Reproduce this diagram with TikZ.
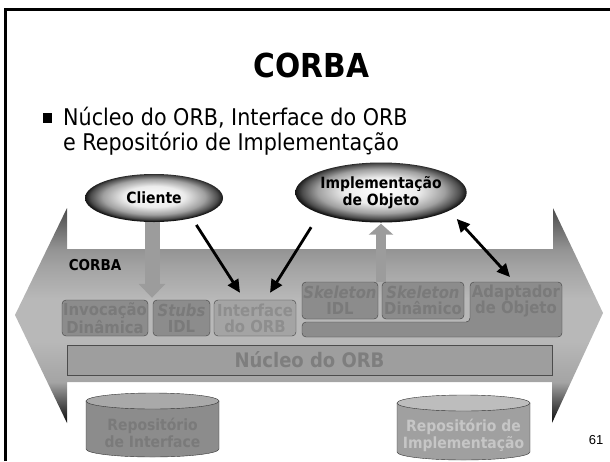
\documentclass[tikz,border=0pt]{standalone}
\usepackage{fontspec}
\IfFontExistsTF{DejaVu Sans Condensed}{\setmainfont{DejaVu Sans Condensed}}{\setmainfont{DejaVu Sans}}
\newfontfamily\arialfont{Liberation Sans}
\usetikzlibrary{arrows.meta,positioning,calc,shapes.geometric}

\definecolor{caixacinza}{HTML}{8C8C8C}
\definecolor{textocinza}{HTML}{7A7A7A}
\definecolor{ifacecinza}{HTML}{A4A4A4}
\definecolor{ifacetexto}{HTML}{8E8E8E}
\definecolor{nucleocinza}{HTML}{9E9E9E}
\definecolor{nucleotexto}{HTML}{7E7E7E}
\definecolor{setacinza}{HTML}{9C9C9C}
\definecolor{cil1corpo}{HTML}{8C8C8C}
\definecolor{cil1topo}{HTML}{A9A9A9}
\definecolor{cil2corpo}{HTML}{A0A0A0}
\definecolor{cil2topo}{HTML}{BDBDBD}
\definecolor{cil2texto}{HTML}{C6C6C6}
\definecolor{sa}{HTML}{0A0A0A}
\definecolor{sb}{HTML}{606060}
\definecolor{sc}{HTML}{A4A4A4}
\definecolor{sd}{HTML}{B8B8B8}
\definecolor{se}{HTML}{A2A2A2}
\definecolor{sf}{HTML}{939393}
\definecolor{sg}{HTML}{4A4A4A}
\definecolor{ba}{HTML}{ECECEC}
\definecolor{bb}{HTML}{A0A0A0}
\definecolor{bc}{HTML}{4C4C4C}
\definecolor{bd}{HTML}{151515}

% sombreado da seta grande
\pgfdeclareverticalshading{setagrande}{100bp}{color(0bp)=(sa); color(25bp)=(sa); color(30.3bp)=(sb);
  color(34.5bp)=(sc); color(44bp)=(sd); color(54bp)=(sd); color(61.7bp)=(se); color(65.5bp)=(sf);
  color(75bp)=(sg); color(100bp)=(sg)}
% sombreado das elipses
\pgfdeclareradialshading{bolha}{\pgfpoint{0bp}{2bp}}{color(0bp)=(white); color(11bp)=(ba);
  color(18.5bp)=(bb); color(23bp)=(bc); color(25bp)=(bd); color(50bp)=(bd)}

\pgfdeclarelayer{fundo}
\pgfdeclarelayer{meio}
\pgfsetlayers{fundo,meio,main}

\newcommand{\titulo}{\fontsize{33}{36}\selectfont\bfseries}
\newcommand{\topico}{\fontsize{23}{25}\selectfont}
\newcommand{\rotulo}{\fontsize{16.5}{16}\selectfont\bfseries}
\newcommand{\rotulob}{\fontsize{15.5}{17}\selectfont\bfseries}

% cilindro desenhado a partir de um no vazio
\newcommand{\cilindro}[3]{%
  \filldraw[draw=black!80, fill=#2] let \p1=(#1.north west), \p2=(#1.south east), \n1={(\x2-\x1)/2} in
    (\x1,\y1) -- (\x1,\y2+8pt) arc[start angle=180, end angle=360, x radius=\n1, y radius=8pt] -- (\x2,\y1);
  \filldraw[draw=black!80, fill=#3] let \p1=(#1.north west), \p2=(#1.south east), \n1={(\x2-\x1)/2} in
    (#1.north) ellipse [x radius=\n1, y radius=8pt];
}

\begin{document}
\begin{tikzpicture}[x=1pt, y=1pt,
    caixa/.style={draw=black!75, fill=caixacinza, rounded corners=4pt, inner sep=0pt,
      align=center, font=\rotulo, text=textocinza},
    vazio/.style={inner sep=0pt, outer sep=0pt},
    bola/.style={ellipse, inner sep=0pt, shading=bolha, align=center, font=\rotulob},
    grossa/.style={draw=setacinza, line width=15pt, -{Triangle[width=26pt,length=14pt]}},
    fina/.style={draw=setacinza, line width=10pt, -{Triangle[width=24pt,length=11pt]}},
    seta/.style={line width=2.8pt, -{Triangle[length=13pt,width=12pt]}},
    setadupla/.style={line width=2.8pt, {Triangle[length=13pt,width=12pt]}-{Triangle[length=13pt,width=12pt]}}]
  \useasboundingbox (0,0) rectangle (610,-461);
  \draw[line width=3pt] (5.5,-461) -- (5.5,-9) -- (610,-9);

  \node[font=\titulo, inner sep=0pt] (titulo) at (311.5,-65) {CORBA};
  \node[fill=black, minimum width=9.5pt, minimum height=9.5pt, inner sep=0pt] (marca) at (47.5,-118) {};
  \node[font=\topico, anchor=base west, inner sep=0pt] (item1) at (63,-125) {Núcleo do ORB, Interface do ORB};
  \node[font=\topico, anchor=base west, inner sep=0pt] (item2) at ([yshift=-25pt]item1.base west) {e Repositório de Implementação};

  % seta grande
  \begin{pgfonlayer}{fundo}
    \shade[shading=setagrande] (15,-315) -- (67,-208) -- (67,-249) -- (553,-249) -- (553,-208)
      -- (603,-313) -- (552,-423) -- (552,-382) -- (67,-382) -- (67,-423) -- cycle;
  \end{pgfonlayer}
  \node[font=\fontsize{15}{16}\selectfont\bfseries, inner sep=0pt] (corba) at (95,-265) {CORBA};

  \node[caixa, minimum width=86pt, minimum height=36pt] (invoc) at (105,-318) {Invocação\\Dinâmica};
  \node[caixa, minimum width=57pt, minimum height=36pt] (stubs) at (181.5,-318) {\textit{Stubs}\\IDL};
  \node[caixa, minimum width=82pt, minimum height=36pt, fill=ifacecinza, text=ifacetexto] (iface) at (255,-318) {Interface\\do ORB};
  \node[caixa, minimum width=76pt, minimum height=37pt] (skelidl) at (340,-300.5) {\textit{Skeleton}\\IDL};
  \node[caixa, minimum width=82pt, minimum height=37pt] (skeldin) at (423,-300.5) {\textit{Skeleton}\\Dinâmico};

  \node[vazio, minimum width=92pt, minimum height=38pt] (adapt) at (516,-301) {};
  \node[vazio, minimum width=260pt, minimum height=15pt] (barra) at (432,-329.5) {};
  \filldraw[draw=black!75, fill=caixacinza, rounded corners=4pt] (barra.north west) -- (adapt.west |- barra.north)
    -- (adapt.north west) -- (adapt.north east) -- (barra.south east) -- (barra.south west) -- cycle;
  \node[font=\rotulo, text=textocinza, align=center] (adaptrot) at (adapt) {Adaptador\\de Objeto};

  \node[draw=black!70, fill=nucleocinza, minimum width=485pt, minimum height=30pt, inner sep=0pt,
    font=\fontsize{20}{20}\selectfont\bfseries, text=nucleotexto] (nucleo) at (309.5,-360) {Núcleo do ORB};

  \node[bola, minimum width=138pt, minimum height=48pt] (cliente) at (154,-198) {Cliente};
  \node[bola, minimum width=142pt, minimum height=60pt] (impl) at (381,-192.5) {Implementação\\de Objeto};

  % setas cinzentas
  \begin{pgfonlayer}{meio}
    \draw[grossa, shorten >=2pt] ([xshift=-2pt]cliente.south) -- ([xshift=-2pt]cliente.south |- invoc.north);
    \draw[fina, shorten >=1pt] (impl.south |- skeldin.north) -- (impl.south);
  \end{pgfonlayer}

  \draw[seta, shorten <=8pt] (cliente.-28) -- ([xshift=-15pt,yshift=7pt]iface.north);
  \draw[seta, shorten <=16pt] (impl.199) -- ([xshift=15pt,yshift=7pt]iface.north);
  \draw[setadupla, shorten <=11pt] (impl.-15.5) -- ([xshift=-6pt,yshift=5pt]adapt.north);

  % repositorios
  \node[vazio, minimum width=133pt, minimum height=56pt] (repint) at (152.5,-429) {};
  \cilindro{repint}{cil1corpo}{cil1topo}
  \node[font=\rotulob, text=textocinza, align=center] (repintrot) at ([yshift=-4pt]repint) {Repositório\\de Interface};
  \node[vazio, minimum width=133pt, minimum height=57pt] (repimp) at (463.5,-431.5) {};
  \cilindro{repimp}{cil2corpo}{cil2topo}
  \node[font=\rotulob, text=cil2texto, align=center] (repimprot) at ([yshift=-4pt]repimp) {Repositório de\\Implementação};

  \node[font=\arialfont\fontsize{13}{13}\selectfont, inner sep=0pt] (pagina) at (596,-440) {61};
\end{tikzpicture}
\end{document}
